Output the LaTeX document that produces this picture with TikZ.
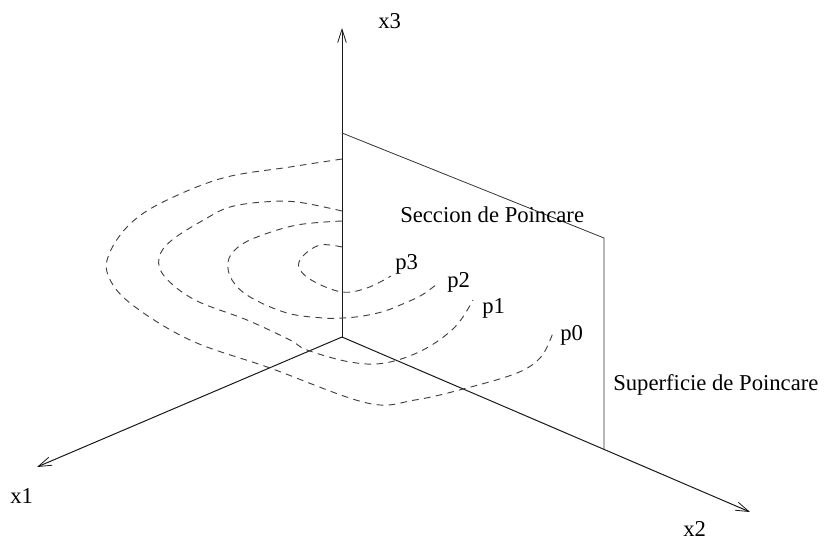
\documentclass[tikz,border=0pt]{standalone}
\usepackage{fontspec}
\setmainfont{Liberation Serif}
\usetikzlibrary{arrows.meta}
\begin{document}
\begin{tikzpicture}[x=0.75pt,y=-0.75pt,
  axis/.style={line width=0.75pt,black!90,-{Straight Barb[length=10pt,width=6.5pt,line width=0.6pt]}},
  planeedge/.style={line width=0.6pt,black!80},
  orbit/.style={line width=0.7pt,black!75,dash pattern=on 5pt off 4pt},
  lbl/.style={inner sep=0pt,anchor=base west,font=\fontsize{17}{20}\selectfont}]
\useasboundingbox (0,0) rectangle (826,539);

% axes
\coordinate (O) at (342,337);
\coordinate (X3) at (342,28);
\coordinate (X1) at (37,467);
\coordinate (X2) at (750,512);
\draw[axis] (O) -- (X3);
\draw[axis] (O) -- (X1);
\draw[axis] (O) -- (X2);
\node[lbl] (l3) at (378,28) {x3};
\node[lbl] (l1) at (10,503) {x1};
\node[lbl] (l2) at (683,536) {x2};

% Poincare section plane
\coordinate (PT) at (342,133);
\coordinate (PR) at (604,238);
\coordinate (PB) at (604,449);
\draw[planeedge] (PT) -- (PR) -- (PB);
\node[lbl] (sec) at (400,222) {Seccion de Poincare};
\node[lbl] (sup) at (613,390) {Superficie de Poincare};

% orbit returning to the section
\draw[orbit] plot[smooth,tension=0.6] coordinates {
  (342,159) (290,167) (223,178) (163,202) (130,224) (110,252) (108,275)
  (130,303) (190,340) (270,368) (367,403) (415,400) (467,388) (517,373)
  (540,358) (551,338) (553,330)};
\draw[orbit] plot[smooth,tension=0.6] coordinates {
  (342,211) (297,202) (263,202) (230,207) (207,218) (172,240) (159,258)
  (165,277) (195,300) (247,320) (290,340) (307,350) (350,362) (385,363)
  (423,350) (455,327) (473,300)};
\draw[orbit] plot[smooth,tension=0.6] coordinates {
  (342,221) (297,225) (257,237) (237,248) (228,262) (232,280) (250,297)
  (287,313) (323,318) (343,318) (363,316) (385,311) (405,303) (422,295)
  (437,284)};
\draw[orbit] plot[smooth,tension=0.6] coordinates {
  (342,247) (320,245) (303,256) (299,268) (313,281) (342,292) (367,288)
  (391,276)};

\node[lbl] (p3) at (395,269) {p3};
\node[lbl] (p2) at (447,287) {p2};
\node[lbl] (p1) at (482,313) {p1};
\node[lbl] (p0) at (560,340) {p0};
\end{tikzpicture}
\end{document}
